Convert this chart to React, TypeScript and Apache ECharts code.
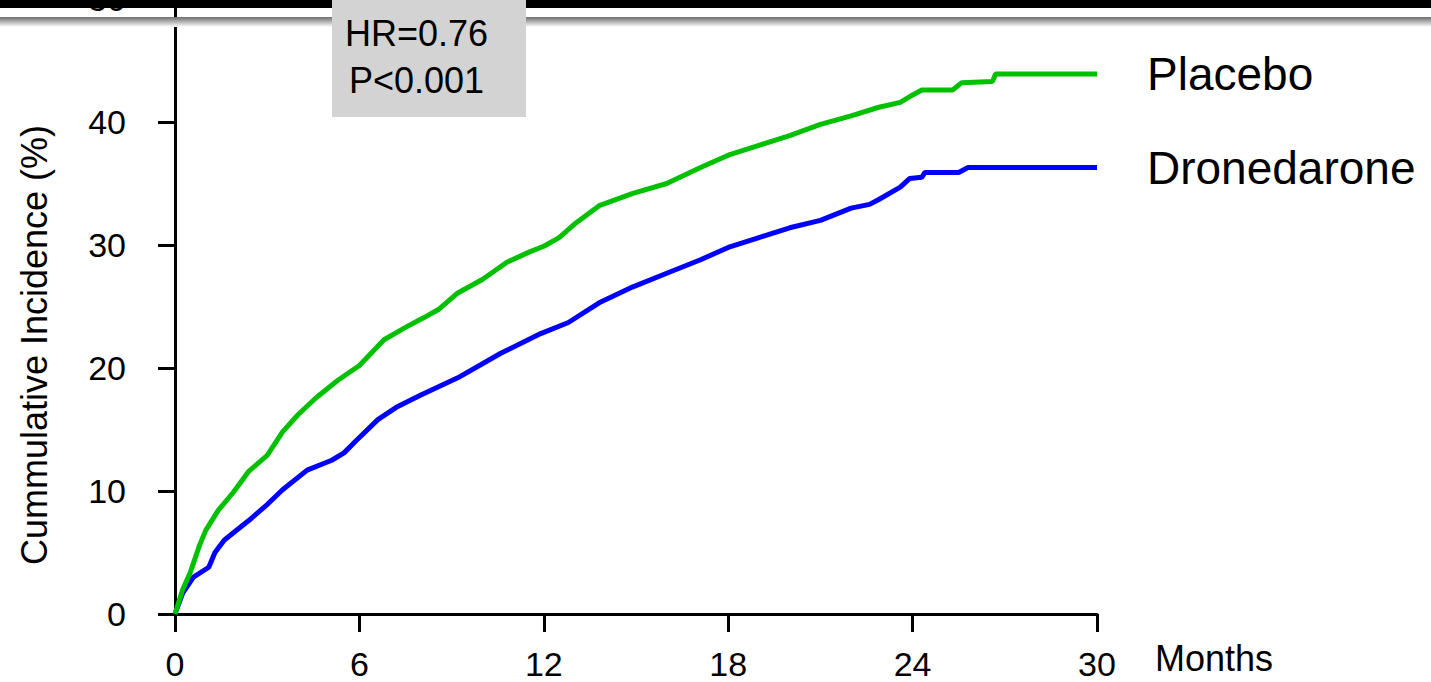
import React, { useEffect, useRef } from "react";
import * as echarts from "echarts";

const xTicks = [0, 6, 12, 18, 24, 30];
const yTicks = [0, 10, 20, 30, 40, 50];

const placeboMonths = [0, 0.25, 0.5, 0.8, 1.0, 1.4, 1.9, 2.4, 3.0, 3.5, 4.0, 4.6, 5.3, 6.0, 6.8, 7.5, 8.1, 8.6, 9.2, 10.0, 10.8, 11.5, 12.0, 12.5, 13.0, 13.8, 14.9, 16.0, 17.1, 18.0, 19.0, 20.0, 21.0, 22.0, 22.9, 23.6, 24.0, 24.3, 25.3, 25.6, 26.6, 26.7, 30.0];
const placeboValues = [0, 2.0, 3.4, 5.6, 6.8, 8.4, 9.9, 11.6, 12.9, 14.8, 16.2, 17.6, 19.0, 20.2, 22.3, 23.3, 24.1, 24.8, 26.1, 27.2, 28.6, 29.4, 29.9, 30.6, 31.7, 33.2, 34.2, 35.0, 36.3, 37.3, 38.1, 38.9, 39.8, 40.5, 41.2, 41.6, 42.2, 42.6, 42.6, 43.2, 43.3, 43.9, 43.9];

const droneMonths = [0, 0.25, 0.6, 1.1, 1.3, 1.6, 1.9, 2.4, 3.0, 3.5, 4.3, 5.1, 5.5, 5.9, 6.6, 7.2, 8.0, 9.2, 10.6, 11.9, 12.8, 13.8, 14.9, 16.0, 17.1, 18.0, 19.0, 20.0, 21.0, 22.0, 22.6, 22.9, 23.6, 23.9, 24.3, 24.4, 25.5, 25.8, 30.0];
const droneValues = [0, 1.7, 3.0, 3.8, 5.0, 6.0, 6.6, 7.6, 8.9, 10.1, 11.7, 12.5, 13.1, 14.1, 15.8, 16.8, 17.8, 19.2, 21.2, 22.8, 23.7, 25.3, 26.6, 27.7, 28.8, 29.8, 30.6, 31.4, 32.0, 33.0, 33.3, 33.7, 34.7, 35.4, 35.5, 35.9, 35.9, 36.3, 36.3];

const seriesNames = ["Dronedarone", "Placebo"];
const statLines = ["HR=0.76", "P<0.001"];
const xName = "Months";
const yName = "Cummulative Incidence (%)";

const FONT = "'Liberation Sans', Arial, sans-serif";

export default function App() {
  const ref = useRef<HTMLDivElement>(null);
  useEffect(() => {
    if (!ref.current) return;
    const chart = echarts.init(ref.current, undefined, { renderer: "svg" });
    const zip = (xs: number[], ys: number[]) => xs.map((x, i) => [x, ys[i]]);
    chart.setOption({
      animation: false,
      backgroundColor: "#ffffff",
      grid: { left: 175, right: 334, top: -1, bottom: 68, containLabel: false, outerBoundsMode: "none" },
      xAxis: {
        type: "value",
        min: xTicks[0],
        max: xTicks[xTicks.length - 1],
        interval: 6,
        name: xName,
        nameLocation: "end",
        nameGap: 58,
        nameTextStyle: {
          color: "#000",
          fontSize: 36,
          fontFamily: FONT,
          align: "left",
          verticalAlign: "top",
          padding: [26, 0, 0, 0],
        },
        axisLine: { show: true, onZero: false, lineStyle: { color: "#000", width: 3 } },
        axisTick: { show: true, inside: false, length: 18, lineStyle: { color: "#000", width: 3 } },
        axisLabel: { color: "#000", fontSize: 34, fontFamily: FONT, margin: 33 },
        splitLine: { show: false },
      },
      yAxis: {
        type: "value",
        min: yTicks[0],
        max: yTicks[yTicks.length - 1],
        interval: 10,
        axisLine: { show: true, onZero: false, lineStyle: { color: "#000", width: 3 } },
        axisTick: { show: true, inside: false, length: 17, lineStyle: { color: "#000", width: 3 } },
        axisLabel: { color: "#000", fontSize: 34, fontFamily: FONT, margin: 49 },
        splitLine: { show: false },
      },
      series: [
        {
          name: seriesNames[0],
          type: "line",
          data: zip(droneMonths, droneValues),
          showSymbol: false,
          symbol: "none",
          lineStyle: { color: "#0000ff", width: 5 },
          itemStyle: { color: "#0000ff" },
          endLabel: {
            show: true,
            formatter: "{a}",
            distance: 50,
            offset: [0, 0],
            color: "#000",
            fontSize: 46,
            fontFamily: FONT,
          },
          z: 2,
        },
        {
          name: seriesNames[1],
          type: "line",
          data: zip(placeboMonths, placeboValues),
          showSymbol: false,
          symbol: "none",
          lineStyle: { color: "#00c000", width: 5 },
          itemStyle: { color: "#00c000" },
          endLabel: {
            show: true,
            formatter: "{a}",
            distance: 50,
            offset: [0, 0],
            color: "#000",
            fontSize: 46,
            fontFamily: FONT,
          },
          z: 3,
        },
      ],
      graphic: [
        { type: "rect", shape: { x: 0, y: 0, width: 1431, height: 8 }, style: { fill: "#000" }, z: 1, silent: true },
        {
          type: "rect",
          shape: { x: 0, y: 17, width: 1431, height: 10 },
          style: {
            fill: new echarts.graphic.LinearGradient(0, 0, 0, 1, [
              { offset: 0, color: "#6e6e6e" },
              { offset: 0.35, color: "#a0a0a0" },
              { offset: 1, color: "#ffffff" },
            ]),
          },
          z: 1,
          silent: true,
        },
        { type: "rect", shape: { x: 332, y: 0, width: 194, height: 117 }, style: { fill: "#d3d3d3" }, z: 10, silent: true },
        {
          type: "text",
          x: 345,
          y: 33,
          style: { text: statLines[0], fill: "#000", fontSize: 36, fontFamily: FONT, align: "left", verticalAlign: "middle" },
          z: 11,
        },
        {
          type: "text",
          x: 349,
          y: 80,
          style: { text: statLines[1], fill: "#000", fontSize: 36, fontFamily: FONT, align: "left", verticalAlign: "middle" },
          z: 11,
        },
        {
          type: "text",
          x: 34,
          y: 345,
          rotation: Math.PI / 2,
          style: { text: yName, fill: "#000", fontSize: 36, fontFamily: FONT, align: "center", verticalAlign: "middle" },
          z: 11,
        },
      ],
    });
    return () => chart.dispose();
  }, []);
  return <div ref={ref} style={{ position: "fixed", left: 0, top: 0, width: 1431, height: 682 }} />;
}
